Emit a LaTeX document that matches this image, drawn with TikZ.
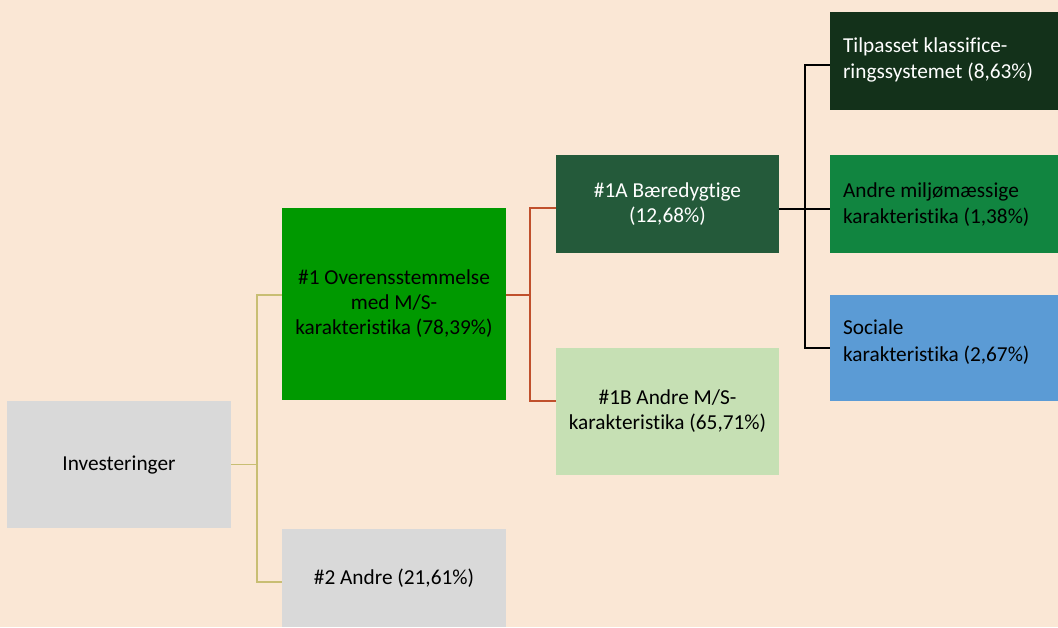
\documentclass[tikz,border=0pt]{standalone}
\usepackage{fontspec}
\setmainfont{Carlito}[Ligatures={NoCommon}]
\definecolor{bg}{HTML}{FAE7D5}
\definecolor{gbox}{HTML}{D9D9D9}
\definecolor{cone}{HTML}{009900}
\definecolor{coneA}{HTML}{245A3A}
\definecolor{coneB}{HTML}{C6E0B4}
\definecolor{ctil}{HTML}{13311A}
\definecolor{cmil}{HTML}{118540}
\definecolor{csoc}{HTML}{5B9BD5}
\definecolor{olivel}{HTML}{C8BE73}
\definecolor{redl}{HTML}{C0502C}
\begin{document}
\begin{tikzpicture}[x=1pt,y=-1pt,
  box/.style={draw=none,inner sep=0pt,align=center,font=\fontsize{21.3}{25}\selectfont},
  lbl/.style={inner sep=0pt,anchor=west,align=left,font=\fontsize{21.3}{25.5}\selectfont},
  oline/.style={draw=olivel,line width=1.6pt},
  rline/.style={draw=redl,line width=1.6pt},
  kline/.style={draw=black,line width=2pt}]
\fill[bg] (0,0) rectangle (1058,627);
\useasboundingbox (0,0) rectangle (1058,627);
% boxes
\node[box,fill=gbox,minimum width=224pt,minimum height=127pt] (inv) at (119,464.5) {Investeringer};
\node[box,fill=cone,minimum width=224pt,minimum height=192pt] (o1) at (394,304) {\#1 Overensstemmelse\\med M/S-\\karakteristika (78,39\%)};
\node[box,fill=gbox,minimum width=224pt,minimum height=98pt] (o2) at (394,578) {\#2 Andre (21,61\%)};
\node[box,fill=coneA,text=white,minimum width=223pt,minimum height=98pt] (o1a) at (667.5,204) {\#1A Bæredygtige\\(12,68\%)};
\node[box,fill=coneB,minimum width=223pt,minimum height=127pt] (o1b) at (667.5,411.5) {\#1B Andre M/S-\\karakteristika (65,71\%)};
\node[box,fill=ctil,minimum width=228pt,minimum height=98pt] (til) at (944,61) {};
\node[box,fill=cmil,minimum width=228pt,minimum height=98pt] (mil) at (944,204) {};
\node[box,fill=csoc,minimum width=228pt,minimum height=106pt] (soc) at (944,348) {};
\node[lbl,text=white] (tiltxt) at ([xshift=13pt,yshift=1pt]til.west) {Tilpasset klassifice-\\ringssystemet (8,63\%)};
\node[lbl] (miltxt) at ([xshift=13pt,yshift=-0.5pt]mil.west) {Andre miljømæssige\\karakteristika (1,38\%)};
\node[lbl,font=\fontsize{21.3}{27.5}\selectfont] (soctxt) at ([xshift=13pt,yshift=6pt]soc.west) {Sociale\\karakteristika (2,67\%)};
% olive connectors
\coordinate (j1) at ([xshift=26pt]inv.east);
\draw[oline] (inv.east) -- (j1);
\draw[oline] (j1) |- ([yshift=9pt]o1.west);
\draw[oline] (j1) |- ([yshift=-4pt]o2.west);
% red connectors
\coordinate (j2) at ([xshift=24pt,yshift=9pt]o1.east);
\draw[rline] ([yshift=9pt]o1.east) -- (j2);
\draw[rline] (j2) |- ([yshift=-4pt]o1a.west);
\draw[rline] (j2) |- ([yshift=10.5pt]o1b.west);
% black connectors
\coordinate (j3) at ([xshift=26pt,yshift=-5pt]o1a.east);
\draw[kline] ([yshift=-5pt]o1a.east) -- ([yshift=-5pt]mil.west);
\draw[kline] (j3) |- ([yshift=-4pt]til.west);
\draw[kline] (j3) |- (soc.west);
\end{tikzpicture}
\end{document}
